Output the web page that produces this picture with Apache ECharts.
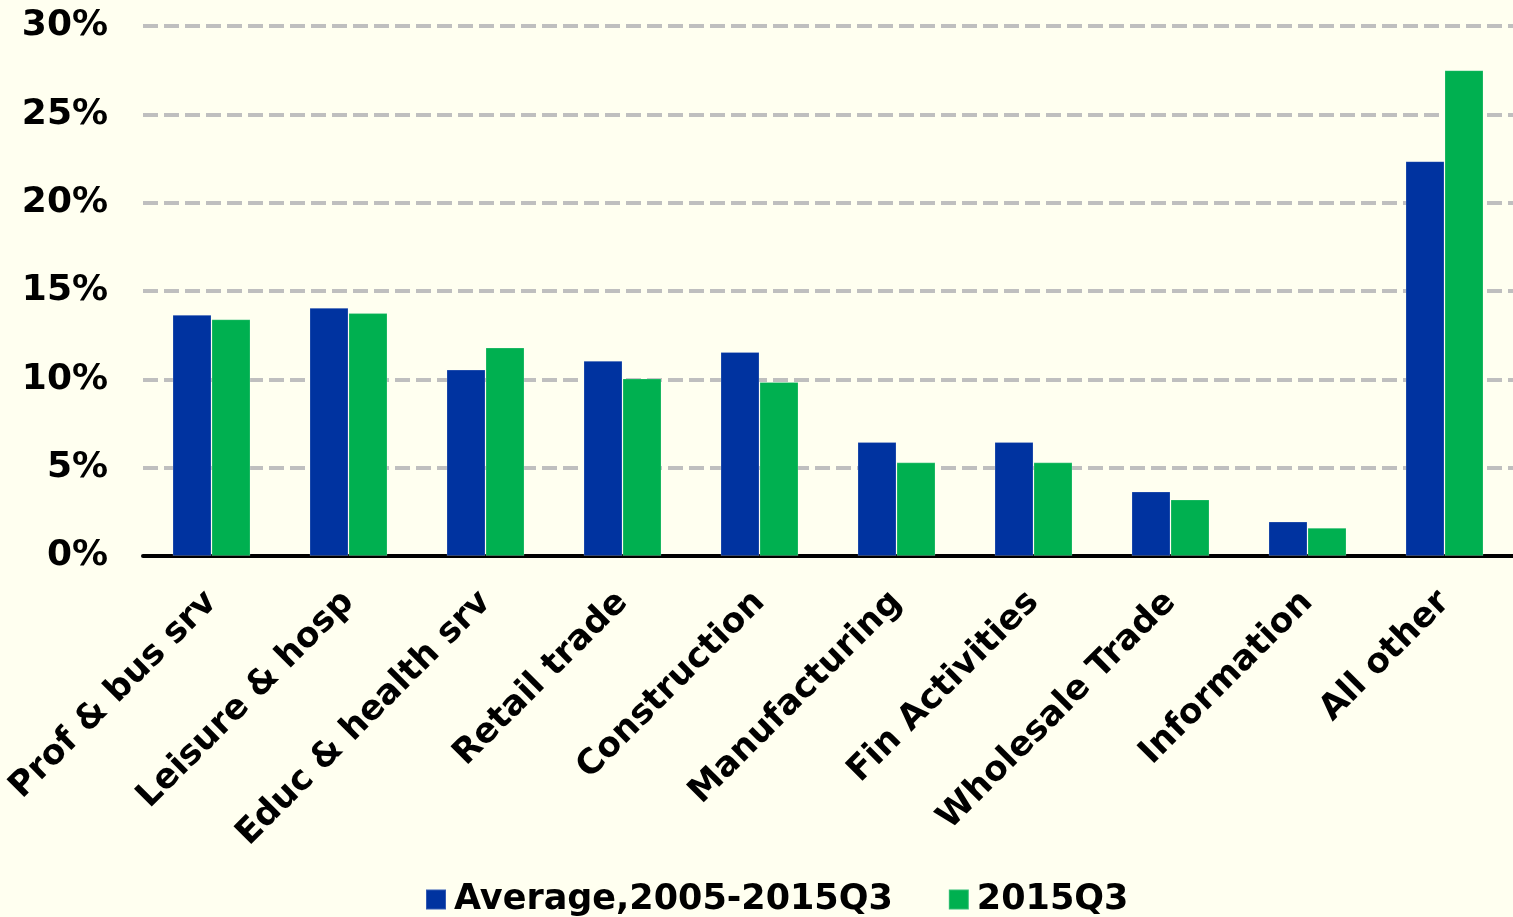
<!DOCTYPE html>
<html>
<head>
<meta charset="utf-8">
<script src="https://cdn.jsdelivr.net/npm/echarts@6/dist/echarts.min.js"></script>
<style>
  html, body { margin: 0; padding: 0; background: #FFFFF0; }
  #chart { width: 1513px; height: 917px; }
</style>
</head>
<body>
<div id="chart"></div>
<script>
// Industry shares of employment (%)
const categories = [
  'Prof & bus srv', 'Leisure & hosp', 'Educ & health srv', 'Retail trade',
  'Construction', 'Manufacturing', 'Fin Activities', 'Wholesale Trade',
  'Information', 'All other'
];
const averageShare = [13.65, 14.05, 10.55, 11.05, 11.55, 6.45, 6.45, 3.65, 1.95, 22.35];
const q3Share = [13.4, 13.75, 11.8, 10.05, 9.85, 5.3, 5.3, 3.2, 1.6, 27.5];
const seriesNames = ['Average,2005-2015Q3', '2015Q3'];
const yTicks = { min: 0, max: 30, interval: 5 };

const FONT = '"DejaVu Sans", Verdana, sans-serif';
const chart = echarts.init(document.getElementById('chart'));

chart.setOption({
  backgroundColor: '#FFFFF0',
  animation: false,
  grid: { left: 143, top: 26, width: 1382, height: 530, containLabel: false },
  legend: {
    data: seriesNames,
    left: 420,
    top: 877,
    itemWidth: 20,
    itemHeight: 20,
    itemGap: 55,
    icon: 'rect',
    textStyle: { fontFamily: FONT, fontWeight: 'bold', fontSize: 35, color: '#000', padding: [0, 0, 0, 3] }
  },
  xAxis: {
    type: 'category',
    data: categories,
    axisLine: { lineStyle: { color: '#000', width: 4 } },
    axisTick: { length: 9, lineStyle: { color: '#000', width: 3 } },
    axisLabel: {
      rotate: 45,
      interval: 0,
      margin: 41,
      fontFamily: FONT,
      fontWeight: 'bold',
      fontSize: 34.5,
      color: '#000'
    }
  },
  yAxis: {
    type: 'value',
    min: yTicks.min,
    max: yTicks.max,
    interval: yTicks.interval,
    axisLine: { show: false },
    axisTick: { show: false },
    axisLabel: {
      formatter: v => v + '%',
      margin: 35,
      fontFamily: FONT,
      fontWeight: 'bold',
      fontSize: 36,
      color: '#000'
    },
    splitLine: { lineStyle: { color: '#BFBFBF', width: 4, type: [15, 6] } }
  },
  series: [
    {
      name: seriesNames[0],
      type: 'bar',
      data: averageShare,
      barWidth: 39,
      barGap: '0%',
      itemStyle: { color: '#0033A0', borderColor: 'rgba(255,255,255,0.2)', borderWidth: 1 }
    },
    {
      name: seriesNames[1],
      type: 'bar',
      data: q3Share,
      barWidth: 39,
      itemStyle: { color: '#00B050', borderColor: 'rgba(255,255,255,0.2)', borderWidth: 1 }
    }
  ]
});
</script>
</body>
</html>
